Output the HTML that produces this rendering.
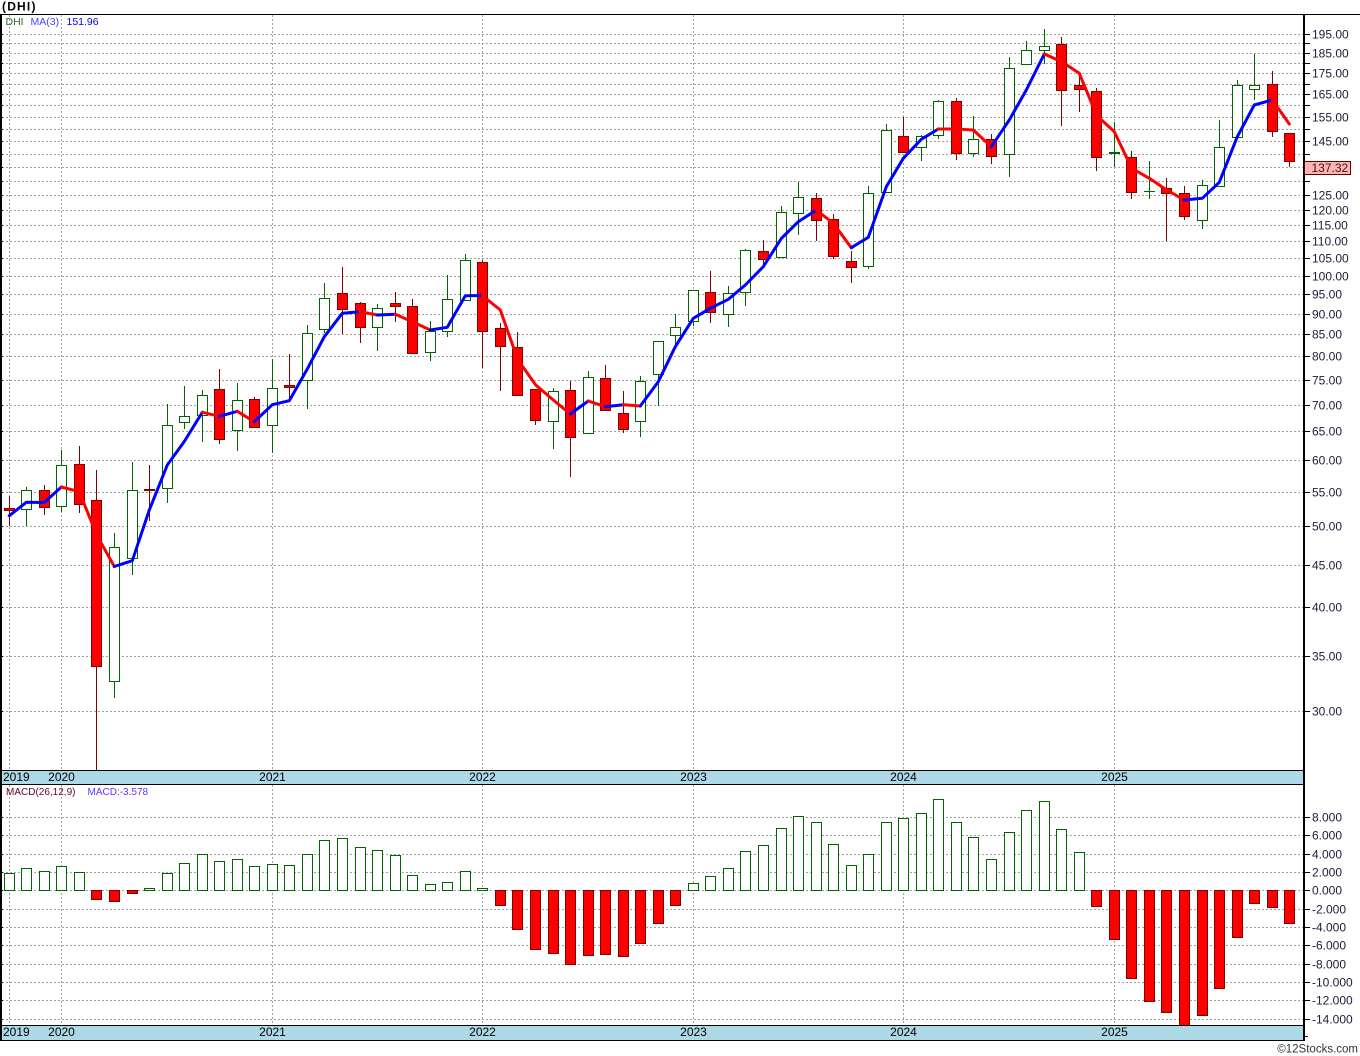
<!DOCTYPE html>
<html><head><meta charset="utf-8"><style>
html,body{margin:0;padding:0;background:#fff;}
svg{display:block;}
text{font-family:"Liberation Sans",Arial,sans-serif;}
.g rect{fill:#fff;stroke:#006400;stroke-width:1;}
.g line{stroke:#006400;stroke-width:1;}
.r rect{fill:#ff0000;stroke:#800000;stroke-width:1;}
.r line{stroke:#800000;stroke-width:1;}
.ax{font-size:12px;fill:#1c1c3c;}
.dt{font-size:12px;fill:#000;}
</style></head><body>
<svg width="1360" height="1056" viewBox="0 0 1360 1056" xmlns="http://www.w3.org/2000/svg">
<defs>
<clipPath id="cm"><rect x="2" y="15" width="1301" height="755"/></clipPath>
<clipPath id="cd"><rect x="2" y="785" width="1301" height="240"/></clipPath>
</defs>
<rect x="0" y="0" width="1360" height="1056" fill="#fff"/>
<text x="2" y="10.5" font-size="12" font-weight="bold" letter-spacing="1.2" fill="#000">(DHI)</text>

<!-- main gridlines -->
<g shape-rendering="crispEdges" stroke="#a0a0a0" stroke-width="1" stroke-dasharray="2 2" fill="none">
<path d="M2 34.5H1303M2 43.5H1303M2 53.5H1303M2 63.5H1303M2 73.5H1303M2 84.5H1303M2 94.5H1303M2 105.5H1303M2 117.5H1303M2 129.5H1303M2 141.5H1303M2 154.5H1303M2 167.5H1303M2 181.5H1303M2 195.5H1303M2 210.5H1303M2 225.5H1303M2 241.5H1303M2 258.5H1303M2 276.5H1303M2 294.5H1303M2 314.5H1303M2 334.5H1303M2 356.5H1303M2 380.5H1303M2 405.5H1303M2 431.5H1303M2 460.5H1303M2 492.5H1303M2 526.5H1303M2 565.5H1303M2 607.5H1303M2 656.5H1303M2 711.5H1303"/>
<path d="M9.5 15V770M61.5 15V770M272.5 15V770M482.5 15V770M693.5 15V770M903.5 15V770M1114.5 15V770"/>
<path d="M2 817.5H1303M2 835.5H1303M2 854.5H1303M2 872.5H1303M2 890.5H1303M2 909.5H1303M2 927.5H1303M2 945.5H1303M2 964.5H1303M2 982.5H1303M2 1000.5H1303M2 1019.5H1303"/>
<path d="M9.5 785V1025M61.5 785V1025M272.5 785V1025M482.5 785V1025M693.5 785V1025M903.5 785V1025M1114.5 785V1025"/>
</g>

<!-- ticks -->
<g shape-rendering="crispEdges" stroke="#000" stroke-width="1" fill="none">
<path d="M1304 34.5h6M1304 43.5h6M1304 53.5h6M1304 63.5h6M1304 73.5h6M1304 84.5h6M1304 94.5h6M1304 105.5h6M1304 117.5h6M1304 129.5h6M1304 141.5h6M1304 154.5h6M1304 167.5h6M1304 181.5h6M1304 195.5h6M1304 210.5h6M1304 225.5h6M1304 241.5h6M1304 258.5h6M1304 276.5h6M1304 294.5h6M1304 314.5h6M1304 334.5h6M1304 356.5h6M1304 380.5h6M1304 405.5h6M1304 431.5h6M1304 460.5h6M1304 492.5h6M1304 526.5h6M1304 565.5h6M1304 607.5h6M1304 656.5h6M1304 711.5h6"/>
<path d="M0 34.5h3M0 43.5h3M0 53.5h3M0 63.5h3M0 73.5h3M0 84.5h3M0 94.5h3M0 105.5h3M0 117.5h3M0 129.5h3M0 141.5h3M0 154.5h3M0 167.5h3M0 181.5h3M0 195.5h3M0 210.5h3M0 225.5h3M0 241.5h3M0 258.5h3M0 276.5h3M0 294.5h3M0 314.5h3M0 334.5h3M0 356.5h3M0 380.5h3M0 405.5h3M0 431.5h3M0 460.5h3M0 492.5h3M0 526.5h3M0 565.5h3M0 607.5h3M0 656.5h3M0 711.5h3"/>
<path d="M1304 817.5h6M1304 835.5h6M1304 854.5h6M1304 872.5h6M1304 890.5h6M1304 909.5h6M1304 927.5h6M1304 945.5h6M1304 964.5h6M1304 982.5h6M1304 1000.5h6M1304 1019.5h6M1304 1036.5h4"/>
<path d="M0 817.5h3M0 835.5h3M0 854.5h3M0 872.5h3M0 890.5h3M0 909.5h3M0 927.5h3M0 945.5h3M0 964.5h3M0 982.5h3M0 1000.5h3M0 1019.5h3"/>
</g>

<!-- legend -->
<text x="5.5" y="25" font-size="10.5" fill="#2e6b2e">DHI</text>
<text x="30.5" y="25" font-size="10.5" fill="#4444ff">MA(3)</text>
<text x="66.5" y="25" font-size="10.5" fill="#0000ee">151.96</text>

<!-- candles -->
<g clip-path="url(#cm)" shape-rendering="crispEdges">
<g class="g">
<line x1="26.5" y1="487" x2="26.5" y2="526"/><rect x="21.5" y="490.5" width="10" height="19"/>
<line x1="61.5" y1="450" x2="61.5" y2="512"/><rect x="56.5" y="465.5" width="10" height="41"/>
<line x1="114.5" y1="533" x2="114.5" y2="698"/><rect x="109.5" y="547.5" width="10" height="134"/>
<line x1="132.5" y1="462" x2="132.5" y2="575"/><rect x="127.5" y="490.5" width="10" height="68"/>
<line x1="167.5" y1="404" x2="167.5" y2="503"/><rect x="162.5" y="425.5" width="10" height="63"/>
<line x1="184.5" y1="386" x2="184.5" y2="429"/><rect x="179.5" y="416.5" width="10" height="6"/>
<line x1="202.5" y1="390" x2="202.5" y2="442"/><rect x="197.5" y="395.5" width="10" height="20"/>
<line x1="237.5" y1="383" x2="237.5" y2="451"/><rect x="232.5" y="400.5" width="10" height="30"/>
<line x1="272.5" y1="359" x2="272.5" y2="453"/><rect x="267.5" y="388.5" width="10" height="37"/>
<line x1="307.5" y1="325" x2="307.5" y2="409"/><rect x="302.5" y="333.5" width="10" height="47"/>
<line x1="324.5" y1="283" x2="324.5" y2="333"/><rect x="319.5" y="298.5" width="10" height="31"/>
<line x1="377.5" y1="304" x2="377.5" y2="351"/><rect x="372.5" y="308.5" width="10" height="19"/>
<line x1="430.5" y1="321" x2="430.5" y2="361"/><rect x="425.5" y="331.5" width="10" height="21"/>
<line x1="447.5" y1="275" x2="447.5" y2="337"/><rect x="442.5" y="299.5" width="10" height="32"/>
<line x1="465.5" y1="254" x2="465.5" y2="300"/><rect x="460.5" y="260.5" width="10" height="40"/>
<line x1="553.5" y1="388" x2="553.5" y2="449"/><rect x="548.5" y="391.5" width="10" height="30"/>
<line x1="588.5" y1="371" x2="588.5" y2="433"/><rect x="583.5" y="377.5" width="10" height="56"/>
<line x1="640.5" y1="376" x2="640.5" y2="437"/><rect x="635.5" y="381.5" width="10" height="40"/>
<line x1="658.5" y1="341" x2="658.5" y2="406"/><rect x="653.5" y="341.5" width="10" height="33"/>
<line x1="675.5" y1="314" x2="675.5" y2="347"/><rect x="670.5" y="327.5" width="10" height="8"/>
<line x1="693.5" y1="290" x2="693.5" y2="326"/><rect x="688.5" y="290.5" width="10" height="31"/>
<line x1="728.5" y1="286" x2="728.5" y2="327"/><rect x="723.5" y="293.5" width="10" height="21"/>
<line x1="745.5" y1="249" x2="745.5" y2="306"/><rect x="740.5" y="250.5" width="10" height="42"/>
<line x1="781.5" y1="206" x2="781.5" y2="257"/><rect x="776.5" y="212.5" width="10" height="45"/>
<line x1="798.5" y1="182" x2="798.5" y2="235"/><rect x="793.5" y="197.5" width="10" height="16"/>
<line x1="868.5" y1="186" x2="868.5" y2="269"/><rect x="863.5" y="193.5" width="10" height="73"/>
<line x1="886.5" y1="124" x2="886.5" y2="192"/><rect x="881.5" y="130.5" width="10" height="62"/>
<line x1="921.5" y1="135" x2="921.5" y2="161"/><rect x="916.5" y="136.5" width="10" height="11"/>
<line x1="938.5" y1="100" x2="938.5" y2="139"/><rect x="933.5" y="101.5" width="10" height="34"/>
<line x1="973.5" y1="116" x2="973.5" y2="157"/><rect x="968.5" y="139.5" width="10" height="14"/>
<line x1="1009.5" y1="57" x2="1009.5" y2="177"/><rect x="1004.5" y="68.5" width="10" height="86"/>
<line x1="1026.5" y1="41" x2="1026.5" y2="64"/><rect x="1021.5" y="50.5" width="10" height="14"/>
<line x1="1044.5" y1="29" x2="1044.5" y2="64"/><rect x="1039.5" y="46.5" width="10" height="4"/>
<line x1="1114.5" y1="122" x2="1114.5" y2="167"/><rect x="1109.5" y="152.5" width="10" height="1"/>
<line x1="1149.5" y1="161" x2="1149.5" y2="199"/><line x1="1144" y1="191.5" x2="1155" y2="191.5"/>
<line x1="1202.5" y1="180" x2="1202.5" y2="229"/><rect x="1197.5" y="185.5" width="10" height="35"/>
<line x1="1219.5" y1="120" x2="1219.5" y2="187"/><rect x="1214.5" y="147.5" width="10" height="39"/>
<line x1="1237.5" y1="80" x2="1237.5" y2="137"/><rect x="1232.5" y="85.5" width="10" height="52"/>
<line x1="1254.5" y1="54" x2="1254.5" y2="100"/><rect x="1249.5" y="85.5" width="10" height="4"/>
</g>
<g class="r">
<line x1="9.5" y1="496" x2="9.5" y2="526"/><rect x="4.5" y="508.5" width="10" height="2"/>
<line x1="44.5" y1="485" x2="44.5" y2="515"/><rect x="39.5" y="490.5" width="10" height="17"/>
<line x1="79.5" y1="446" x2="79.5" y2="513"/><rect x="74.5" y="464.5" width="10" height="40"/>
<line x1="96.5" y1="470" x2="96.5" y2="771"/><rect x="91.5" y="500.5" width="10" height="166"/>
<line x1="149.5" y1="465" x2="149.5" y2="521"/><rect x="144.5" y="489.5" width="10" height="1"/>
<line x1="219.5" y1="369" x2="219.5" y2="444"/><rect x="214.5" y="389.5" width="10" height="50"/>
<line x1="254.5" y1="397" x2="254.5" y2="427"/><rect x="249.5" y="399.5" width="10" height="28"/>
<line x1="289.5" y1="354" x2="289.5" y2="400"/><rect x="284.5" y="385.5" width="10" height="2"/>
<line x1="342.5" y1="267" x2="342.5" y2="334"/><rect x="337.5" y="293.5" width="10" height="16"/>
<line x1="360.5" y1="302" x2="360.5" y2="343"/><rect x="355.5" y="303.5" width="10" height="24"/>
<line x1="395.5" y1="292" x2="395.5" y2="322"/><rect x="390.5" y="303.5" width="10" height="3"/>
<line x1="412.5" y1="299" x2="412.5" y2="353"/><rect x="407.5" y="306.5" width="10" height="47"/>
<line x1="482.5" y1="260" x2="482.5" y2="368"/><rect x="477.5" y="262.5" width="10" height="69"/>
<line x1="500.5" y1="323" x2="500.5" y2="391"/><rect x="495.5" y="328.5" width="10" height="18"/>
<line x1="517.5" y1="332" x2="517.5" y2="395"/><rect x="512.5" y="347.5" width="10" height="48"/>
<line x1="535.5" y1="389" x2="535.5" y2="425"/><rect x="530.5" y="389.5" width="10" height="31"/>
<line x1="570.5" y1="381" x2="570.5" y2="477"/><rect x="565.5" y="390.5" width="10" height="47"/>
<line x1="605.5" y1="365" x2="605.5" y2="410"/><rect x="600.5" y="378.5" width="10" height="32"/>
<line x1="623.5" y1="391" x2="623.5" y2="433"/><rect x="618.5" y="413.5" width="10" height="16"/>
<line x1="710.5" y1="271" x2="710.5" y2="323"/><rect x="705.5" y="292.5" width="10" height="20"/>
<line x1="763.5" y1="240" x2="763.5" y2="265"/><rect x="758.5" y="251.5" width="10" height="8"/>
<line x1="816.5" y1="193" x2="816.5" y2="241"/><rect x="811.5" y="198.5" width="10" height="22"/>
<line x1="833.5" y1="214" x2="833.5" y2="259"/><rect x="828.5" y="219.5" width="10" height="37"/>
<line x1="851.5" y1="251" x2="851.5" y2="283"/><rect x="846.5" y="261.5" width="10" height="6"/>
<line x1="903.5" y1="117" x2="903.5" y2="153"/><rect x="898.5" y="136.5" width="10" height="16"/>
<line x1="956.5" y1="98" x2="956.5" y2="160"/><rect x="951.5" y="101.5" width="10" height="52"/>
<line x1="991.5" y1="134" x2="991.5" y2="164"/><rect x="986.5" y="139.5" width="10" height="17"/>
<line x1="1061.5" y1="37" x2="1061.5" y2="126"/><rect x="1056.5" y="44.5" width="10" height="46"/>
<line x1="1079.5" y1="74" x2="1079.5" y2="112"/><rect x="1074.5" y="85.5" width="10" height="4"/>
<line x1="1096.5" y1="88" x2="1096.5" y2="171"/><rect x="1091.5" y="91.5" width="10" height="66"/>
<line x1="1131.5" y1="151" x2="1131.5" y2="199"/><rect x="1126.5" y="157.5" width="10" height="35"/>
<line x1="1166.5" y1="178" x2="1166.5" y2="241"/><rect x="1161.5" y="188.5" width="10" height="5"/>
<line x1="1184.5" y1="186" x2="1184.5" y2="220"/><rect x="1179.5" y="193.5" width="10" height="23"/>
<line x1="1272.5" y1="71" x2="1272.5" y2="137"/><rect x="1267.5" y="84.5" width="10" height="47"/>
<line x1="1289.5" y1="133" x2="1289.5" y2="167"/><rect x="1284.5" y="133.5" width="10" height="28"/>
</g>
</g>

<!-- MA(3) line -->
<g clip-path="url(#cm)" fill="none" stroke-width="3" stroke-linecap="round" stroke-linejoin="round">
<polyline stroke="#0000ff" points="9.3,515.7 26.3,502.3 44.3,502.5 61.3,487"/>
<polyline stroke="#ff0000" points="61.3,487 79.3,491.7 96.7,535 114.3,566.5"/>
<polyline stroke="#0000ff" points="114.3,566.5 132.3,560.7 149.3,510 167.3,465 184.3,441.5 202.3,412.3"/>
<polyline stroke="#ff0000" points="202.3,412.3 219.3,416.3"/>
<polyline stroke="#0000ff" points="219.3,416.3 237.3,411.3"/>
<polyline stroke="#ff0000" points="237.3,411.3 254.3,421.8"/>
<polyline stroke="#0000ff" points="254.3,421.8 272.3,404.7 289.3,400.7 307.3,369 324.3,336.7 342.3,313.3 360,311.7"/>
<polyline stroke="#ff0000" points="360,311.7 377.3,315"/>
<polyline stroke="#0000ff" points="377.3,315 395.3,314.3"/>
<polyline stroke="#ff0000" points="395.3,314.3 412.3,321.7 430.3,330"/>
<polyline stroke="#0000ff" points="430.3,330 447.3,327.3 465.3,295.7 482.3,295.5"/>
<polyline stroke="#ff0000" points="482.3,295.5 500.3,310 517.7,359.5 535.7,385 553.3,400 570.3,414"/>
<polyline stroke="#0000ff" points="570.3,414 588.3,401"/>
<polyline stroke="#ff0000" points="588.3,401 605.3,406.7"/>
<polyline stroke="#0000ff" points="605.3,406.7 623.3,404.7"/>
<polyline stroke="#ff0000" points="623.3,404.7 640.3,406"/>
<polyline stroke="#0000ff" points="640.3,406 658.3,381.7 675.3,346.7 693.3,318.3 710.3,308.3 728.3,299.3 745.3,285 763.3,266.7 781.3,238.5 798.3,221.7 816.3,210"/>
<polyline stroke="#ff0000" points="816.3,210 833.3,223.3 851.3,247.7"/>
<polyline stroke="#0000ff" points="851.3,247.7 868.3,237.3 886.3,186.7 903.3,158.3 921.3,139.3 938.3,129"/>
<polyline stroke="#ff0000" points="938.3,129 956.3,129 973.3,130 991.3,146.7"/>
<polyline stroke="#0000ff" points="991.3,146.7 1009.3,120 1026.3,90 1044.3,54"/>
<polyline stroke="#ff0000" points="1044.3,54 1061.7,61.7 1079.3,73.3 1096.7,115.5 1114.3,131.7 1131.7,168.3 1149.3,178.3 1166.7,190 1184.3,200"/>
<polyline stroke="#0000ff" points="1184.3,200 1202.3,198.3 1219.3,182.3 1237.3,136.7 1254.3,105 1272.3,100"/>
<polyline stroke="#ff0000" points="1272.3,100 1289.3,124"/>
</g>

<!-- MACD bars -->
<g clip-path="url(#cd)" shape-rendering="crispEdges">
<g class="g">
<rect x="4.5" y="873.5" width="10" height="17"/>
<rect x="21.5" y="868.5" width="10" height="22"/>
<rect x="39.5" y="871.5" width="10" height="19"/>
<rect x="56.5" y="866.5" width="10" height="24"/>
<rect x="74.5" y="872.5" width="10" height="18"/>
<rect x="144.5" y="888.5" width="10" height="2"/>
<rect x="162.5" y="873.5" width="10" height="17"/>
<rect x="179.5" y="863.5" width="10" height="27"/>
<rect x="197.5" y="854.5" width="10" height="36"/>
<rect x="214.5" y="861.5" width="10" height="29"/>
<rect x="232.5" y="859.5" width="10" height="31"/>
<rect x="249.5" y="866.5" width="10" height="24"/>
<rect x="267.5" y="864.5" width="10" height="26"/>
<rect x="284.5" y="865.5" width="10" height="25"/>
<rect x="302.5" y="854.5" width="10" height="36"/>
<rect x="319.5" y="840.5" width="10" height="50"/>
<rect x="337.5" y="838.5" width="10" height="52"/>
<rect x="355.5" y="847.5" width="10" height="43"/>
<rect x="372.5" y="850.5" width="10" height="40"/>
<rect x="390.5" y="855.5" width="10" height="35"/>
<rect x="407.5" y="875.5" width="10" height="15"/>
<rect x="425.5" y="884.5" width="10" height="6"/>
<rect x="442.5" y="882.5" width="10" height="8"/>
<rect x="460.5" y="871.5" width="10" height="19"/>
<rect x="477.5" y="888.5" width="10" height="2"/>
<rect x="688.5" y="883.5" width="10" height="7"/>
<rect x="705.5" y="876.5" width="10" height="14"/>
<rect x="723.5" y="868.5" width="10" height="22"/>
<rect x="740.5" y="851.5" width="10" height="39"/>
<rect x="758.5" y="845.5" width="10" height="45"/>
<rect x="776.5" y="828.5" width="10" height="62"/>
<rect x="793.5" y="816.5" width="10" height="74"/>
<rect x="811.5" y="822.5" width="10" height="68"/>
<rect x="828.5" y="844.5" width="10" height="46"/>
<rect x="846.5" y="865.5" width="10" height="25"/>
<rect x="863.5" y="854.5" width="10" height="36"/>
<rect x="881.5" y="822.5" width="10" height="68"/>
<rect x="898.5" y="818.5" width="10" height="72"/>
<rect x="916.5" y="813.5" width="10" height="77"/>
<rect x="933.5" y="799.5" width="10" height="91"/>
<rect x="951.5" y="822.5" width="10" height="68"/>
<rect x="968.5" y="837.5" width="10" height="53"/>
<rect x="986.5" y="859.5" width="10" height="31"/>
<rect x="1004.5" y="832.5" width="10" height="58"/>
<rect x="1021.5" y="810.5" width="10" height="80"/>
<rect x="1039.5" y="801.5" width="10" height="89"/>
<rect x="1056.5" y="829.5" width="10" height="61"/>
<rect x="1074.5" y="852.5" width="10" height="38"/>
</g>
<g class="r">
<rect x="91.5" y="890.5" width="10" height="9"/>
<rect x="109.5" y="890.5" width="10" height="11"/>
<rect x="127.5" y="890.5" width="10" height="3"/>
<rect x="495.5" y="890.5" width="10" height="15"/>
<rect x="512.5" y="890.5" width="10" height="39"/>
<rect x="530.5" y="890.5" width="10" height="59"/>
<rect x="548.5" y="890.5" width="10" height="63"/>
<rect x="565.5" y="890.5" width="10" height="74"/>
<rect x="583.5" y="890.5" width="10" height="65"/>
<rect x="600.5" y="890.5" width="10" height="64"/>
<rect x="618.5" y="890.5" width="10" height="66"/>
<rect x="635.5" y="890.5" width="10" height="53"/>
<rect x="653.5" y="890.5" width="10" height="33"/>
<rect x="670.5" y="890.5" width="10" height="15"/>
<rect x="1091.5" y="890.5" width="10" height="16"/>
<rect x="1109.5" y="890.5" width="10" height="49"/>
<rect x="1126.5" y="890.5" width="10" height="88"/>
<rect x="1144.5" y="890.5" width="10" height="111"/>
<rect x="1161.5" y="890.5" width="10" height="122"/>
<rect x="1179.5" y="890.5" width="10" height="140"/>
<rect x="1197.5" y="890.5" width="10" height="125"/>
<rect x="1214.5" y="890.5" width="10" height="98"/>
<rect x="1232.5" y="890.5" width="10" height="47"/>
<rect x="1249.5" y="890.5" width="10" height="13"/>
<rect x="1267.5" y="890.5" width="10" height="17"/>
<rect x="1284.5" y="890.5" width="10" height="33"/>
</g>
</g>

<text x="6" y="795" font-size="10" fill="#660033">MACD(26,12,9)</text>
<text x="87.5" y="795" font-size="10" fill="#6633ff">MACD:-3.578</text>

<!-- date bars -->
<g shape-rendering="crispEdges">
<rect x="0" y="771" width="1304" height="13" fill="#add8e6"/>
<rect x="0" y="1026" width="1304" height="14" fill="#add8e6"/>
<path d="M0 770.5H1304M0 784.5H1304M0 1025.5H1304M0 1040.5H1304M0 14.5H1360" stroke="#000" stroke-width="1" fill="none"/>
<path d="M1 14V1041M1304 14V1041" stroke="#000" stroke-width="2" fill="none"/>
</g>
<g class="dt">
<text x="3" y="781">2019</text>
<text x="61.5" y="781" text-anchor="middle">2020</text>
<text x="272.5" y="781" text-anchor="middle">2021</text>
<text x="482.5" y="781" text-anchor="middle">2022</text>
<text x="693.5" y="781" text-anchor="middle">2023</text>
<text x="903.5" y="781" text-anchor="middle">2024</text>
<text x="1114.5" y="781" text-anchor="middle">2025</text>
<text x="3" y="1036">2019</text>
<text x="61.5" y="1036" text-anchor="middle">2020</text>
<text x="272.5" y="1036" text-anchor="middle">2021</text>
<text x="482.5" y="1036" text-anchor="middle">2022</text>
<text x="693.5" y="1036" text-anchor="middle">2023</text>
<text x="903.5" y="1036" text-anchor="middle">2024</text>
<text x="1114.5" y="1036" text-anchor="middle">2025</text>
</g>

<!-- right axis labels -->
<g class="ax">
<text x="1312" y="38.5">195.00</text>
<text x="1312" y="57.5">185.00</text>
<text x="1312" y="77.5">175.00</text>
<text x="1312" y="98.5">165.00</text>
<text x="1312" y="121.5">155.00</text>
<text x="1312" y="145.5">145.00</text>
<text x="1312" y="199.5">125.00</text>
<text x="1312" y="214.5">120.00</text>
<text x="1312" y="229.5">115.00</text>
<text x="1312" y="245.5">110.00</text>
<text x="1312" y="262.5">105.00</text>
<text x="1312" y="280.5">100.00</text>
<text x="1312" y="298.5">95.00</text>
<text x="1312" y="318.5">90.00</text>
<text x="1312" y="338.5">85.00</text>
<text x="1312" y="360.5">80.00</text>
<text x="1312" y="384.5">75.00</text>
<text x="1312" y="409.5">70.00</text>
<text x="1312" y="435.5">65.00</text>
<text x="1312" y="464.5">60.00</text>
<text x="1312" y="496.5">55.00</text>
<text x="1312" y="530.5">50.00</text>
<text x="1312" y="569.5">45.00</text>
<text x="1312" y="611.5">40.00</text>
<text x="1312" y="660.5">35.00</text>
<text x="1312" y="715.5">30.00</text>
<text x="1312" y="821.5">8.000</text>
<text x="1312" y="839.5">6.000</text>
<text x="1312" y="858.5">4.000</text>
<text x="1312" y="876.5">2.000</text>
<text x="1312" y="894.5">0.000</text>
<text x="1312" y="913.5">-2.000</text>
<text x="1312" y="931.5">-4.000</text>
<text x="1312" y="949.5">-6.000</text>
<text x="1312" y="968.5">-8.000</text>
<text x="1312" y="986.5">-10.000</text>
<text x="1312" y="1004.5">-12.000</text>
<text x="1312" y="1023.5">-14.000</text>
</g>

<!-- last price box -->
<rect x="1304.5" y="161.5" width="46" height="13" fill="#ffb3b3" stroke="#600000" stroke-width="1" shape-rendering="crispEdges"/>
<text x="1311.5" y="172" font-size="12" fill="#3a1a1a">137.32</text>

<text x="1358" y="1052.5" font-size="11.5" fill="#333" text-anchor="end">©12Stocks.com</text>
</svg>
</body></html>
